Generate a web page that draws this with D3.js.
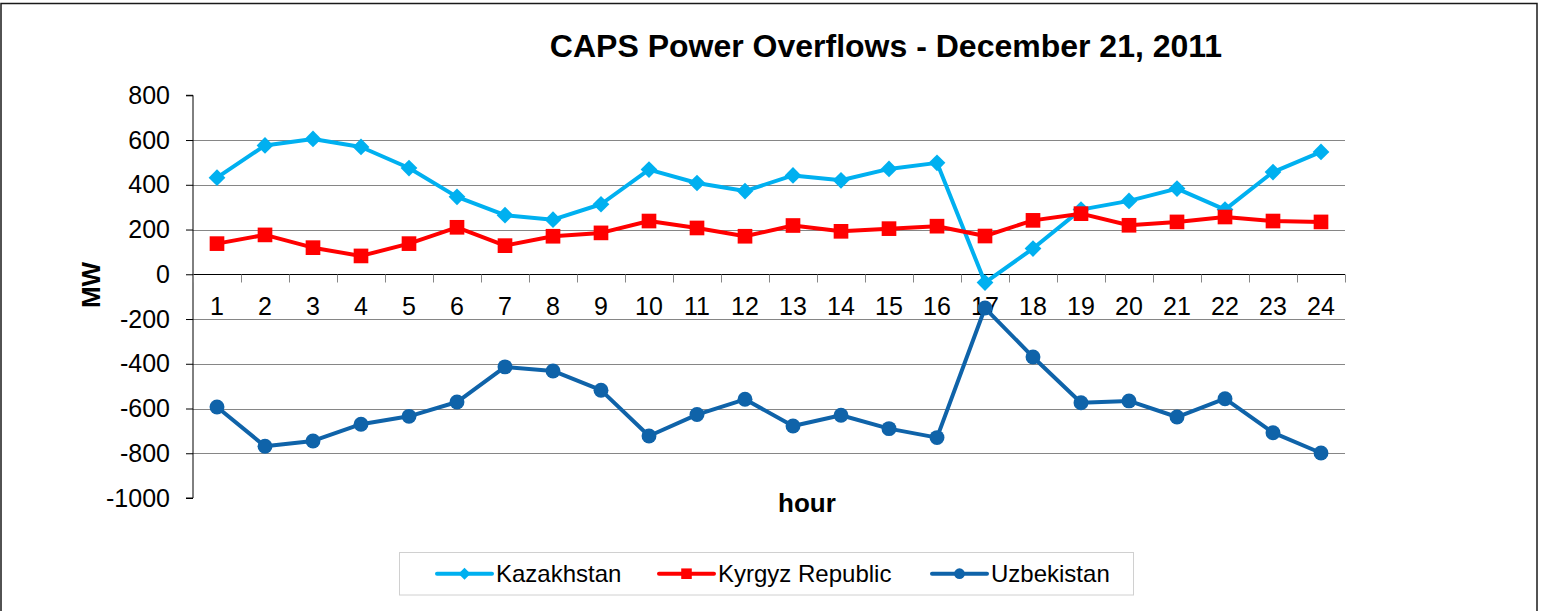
<!DOCTYPE html>
<html>
<head>
<meta charset="utf-8">
<script src="https://cdn.jsdelivr.net/npm/d3@7"></script>
<style>
  body { margin: 0; background: #fff; }
  svg { display: block; font-family: "Liberation Sans", Arial, sans-serif; }
</style>
</head>
<body>
<div id="chart"></div>
<script>
const hours = d3.range(1, 25).map(String);
const yTicks = [800, 600, 400, 200, 0, -200, -400, -600, -800, -1000];

const kazakhstan = [432, 576, 605, 569, 475, 346, 264, 244, 313, 468, 408, 372,
                    442, 420, 471, 498, -37, 115, 289, 328, 383, 289, 457, 547];
const kyrgyz = [137, 176, 119, 82, 137, 210, 128, 170, 185, 238, 207, 170,
                218, 192, 204, 215, 171, 241, 271, 219, 234, 256, 238, 234];
const uzbekistan = [-593, -769, -745, -670, -635, -571, -414, -432, -518, -723, -627, -559,
                    -678, -630, -690, -730, -151, -370, -574, -566, -638, -556, -708, -799];

const seriesNames = ["Kazakhstan", "Kyrgyz Republic", "Uzbekistan"];

const size = {
    width: 1541,
    height: 611,
    plot: { left: 193, right: 1345, top: 95.3, bottom: 498 }
};

const series = [
    { name: seriesNames[0], values: kazakhstan, color: "#00b0f0", marker: "diamond", legendX: 437 },
    { name: seriesNames[1], values: kyrgyz, color: "#ff0000", marker: "square", legendX: 659 },
    { name: seriesNames[2], values: uzbekistan, color: "#0f63a9", marker: "circle", legendX: 932 }
];

const xScale = d3.scaleBand()
    .domain(hours)
    .range([size.plot.left, size.plot.right]);

const yScale = d3.scaleLinear()
    .domain([-1000, 800])
    .range([size.plot.bottom, size.plot.top]);

const svg = d3.select("#chart")
    .append("svg")
    .attr("width", size.width)
    .attr("height", size.height);

// outer border
svg.append("rect")
    .attr("x", 1).attr("y", 3.5)
    .attr("width", 1536).attr("height", 700)
    .attr("fill", "none")
    .attr("stroke", "#1a1a1a")
    .attr("stroke-width", 1.5);

// title
svg.append("text")
    .attr("x", 886).attr("y", 57)
    .attr("text-anchor", "middle")
    .attr("font-size", 32)
    .attr("font-weight", "bold")
    .text("CAPS Power Overflows - December 21, 2011");

// gridlines
svg.append("g")
    .selectAll("line")
    .data(yTicks.filter(d => d !== 0 && d !== 800 && d !== -1000))
    .enter()
    .append("line")
    .attr("x1", size.plot.left).attr("x2", size.plot.right)
    .attr("y1", d => Math.round(yScale(d)) + 0.5)
    .attr("y2", d => Math.round(yScale(d)) + 0.5)
    .attr("stroke", "#868686")
    .attr("stroke-width", 1);

// Y axis
const yAxis = svg.append("g")
    .attr("transform", `translate(${size.plot.left}, 0)`)
    .call(d3.axisLeft(yScale).tickValues(yTicks).tickSize(7).tickPadding(16).tickFormat(d => String(d)));
yAxis.select(".domain").attr("stroke", "#000").attr("d", `M-7,${yScale(800)}H0V${yScale(-1000)}H-7`);
yAxis.selectAll("text").attr("font-size", 25).attr("fill", "#000").attr("font-family", null);

// X axis on zero line: boundary ticks
const y0 = Math.round(yScale(0)) + 0.5;
const boundary = d3.scaleLinear().domain([0, 24]).range([size.plot.left, size.plot.right]);
const xTicks = svg.append("g")
    .attr("transform", `translate(0, ${y0})`)
    .call(d3.axisBottom(boundary).tickValues(d3.range(0, 25)).tickSize(8).tickFormat(""));
xTicks.select(".domain").attr("stroke", "#000").attr("d", `M${size.plot.left},0H${size.plot.right}`);
xTicks.selectAll(".tick line").attr("stroke", "#868686");

// X labels at band centres
const xLabels = svg.append("g")
    .attr("transform", `translate(0, ${y0})`)
    .call(d3.axisBottom(xScale).tickSize(0).tickPadding(23));
xLabels.select(".domain").remove();
xLabels.selectAll("text").attr("font-size", 25).attr("fill", "#000").attr("font-family", null);

// axis titles
svg.append("text")
    .attr("transform", "translate(100, 285) rotate(-90)")
    .attr("text-anchor", "middle")
    .attr("font-size", 26)
    .attr("font-weight", "bold")
    .text("MW");

svg.append("text")
    .attr("x", 807).attr("y", 512)
    .attr("text-anchor", "middle")
    .attr("font-size", 26)
    .attr("font-weight", "bold")
    .text("hour");

function markerPath(type, scale) {
    const s = scale || 1;
    if (type === "diamond") return d3.symbol(d3.symbolSquare, 140 * s * s)();
    if (type === "square") return d3.symbol(d3.symbolSquare, 215 * s * s)();
    return d3.symbol(d3.symbolCircle, 175 * s * s)();
}

const valueline = d3.line()
    .x((d, i) => xScale(hours[i]) + xScale.bandwidth() / 2)
    .y(d => yScale(d));

// series
series.forEach(s => {
    const g = svg.append("g");
    g.append("path")
        .attr("d", valueline(s.values))
        .attr("fill", "none")
        .attr("stroke", s.color)
        .attr("stroke-width", 4)
        .attr("stroke-linejoin", "round");
    g.selectAll("path.marker")
        .data(s.values)
        .enter()
        .append("path")
        .attr("class", "marker")
        .attr("d", markerPath(s.marker))
        .attr("transform", (d, i) => {
            const x = xScale(hours[i]) + xScale.bandwidth() / 2;
            return `translate(${x}, ${yScale(d)})` + (s.marker === "diamond" ? " rotate(45)" : "");
        })
        .attr("fill", s.color);
});

// legend
const legend = svg.append("g");
legend.append("rect")
    .attr("x", 399.5).attr("y", 552.5)
    .attr("width", 734).attr("height", 42.5)
    .attr("fill", "#fff")
    .attr("stroke", "#d0d0d0")
    .attr("stroke-width", 1);

series.forEach(s => {
    const lx = s.legendX;
    const item = legend.append("g");
    item.append("line")
        .attr("x1", lx).attr("x2", lx + 55)
        .attr("y1", 573.7).attr("y2", 573.7)
        .attr("stroke", s.color)
        .attr("stroke-width", 4)
        .attr("stroke-linecap", "round");
    item.append("path")
        .attr("d", markerPath(s.marker, 0.72))
        .attr("transform", `translate(${lx + 27.5}, 573.7)` + (s.marker === "diamond" ? " rotate(45)" : ""))
        .attr("fill", s.color);
    item.append("text")
        .attr("x", lx + 59).attr("y", 581.7)
        .attr("font-size", 24)
        .text(s.name);
});
</script>
</body>
</html>
